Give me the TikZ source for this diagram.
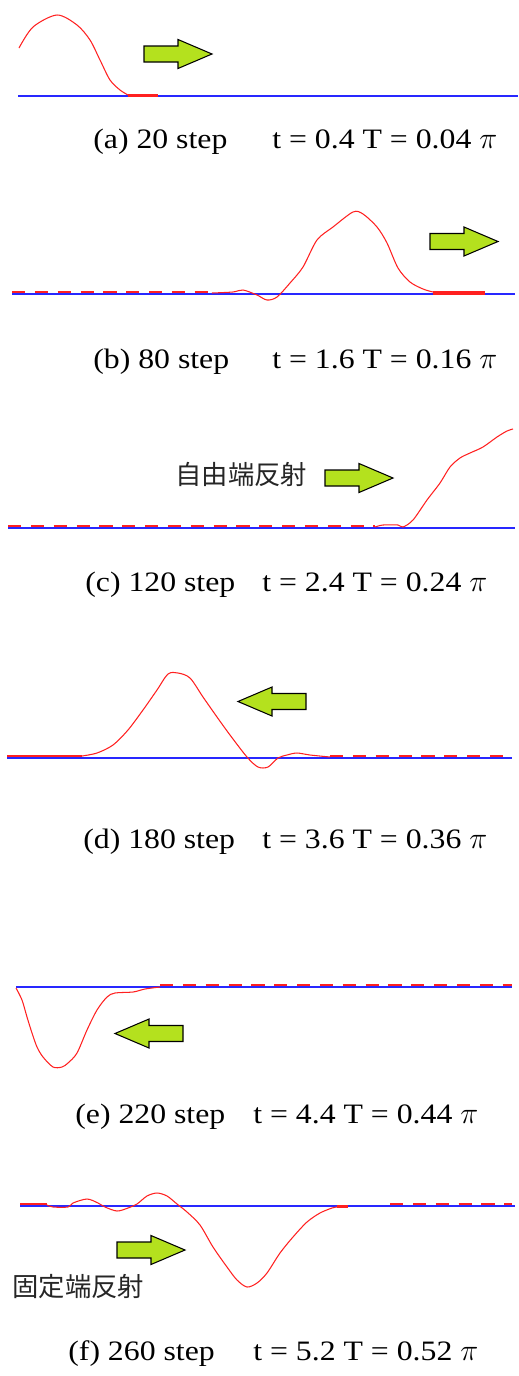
\documentclass[tikz,border=0pt]{standalone}
\usepackage{fontspec}
\setmainfont[FakeStretch=1.13]{Liberation Serif}
\newfontfamily\jpfont{Noto Sans CJK JP}
\definecolor{WAVEred}{HTML}{FF2020}
\definecolor{WAVEblue}{HTML}{2828FF}
\definecolor{WAVEgreen}{HTML}{B4E11E}

\begin{document}
\begin{tikzpicture}[x=0.02cm, y=-0.02cm,
      rope/.style={WAVEblue, line width=1.1pt},
      wave/.style={WAVEred, line width=0.6pt},
      rest/.style={WAVEred, line width=1.8pt},
      residue/.style={WAVEred, line width=2.2pt, dash pattern=on 7.5pt off 5.5pt},
      caption/.style={anchor=base west, inner sep=0pt, font=\fontsize{16}{19}\selectfont},
      note/.style={anchor=west, inner sep=0pt, text=black!85, font=\jpfont\fontsize{15}{18}\selectfont},
      move/.pic={\draw[black, fill=WAVEgreen, line width=0.6pt]
         (0,-8) -- (34,-8) -- (34,-14.5) -- (68,0) -- (34,14.5) -- (34,8) -- (0,8) -- cycle;}]
   \useasboundingbox (0,0) rectangle (518,1376);
   % (a) 20 step
   \draw[rope] (18,96) -- (518,96);
   \draw[wave] plot[smooth] coordinates {(19,48) (33,27) (57,15) (77,25) (90,40) (100,60) (110,80) (120,90) (128,95)};
   \draw[rest] (128,95.5) -- (158,95.5);
   \pic at (144,54) {move};
   \node[caption] (cap-a) at (93,148) {(a) 20 step};
   \node[caption] (val-a) at (272,148) {t = 0.4 T = 0.04 $\pi$};
   % (b) 80 step
   \draw[residue] (12,293) -- (212,293);
   \draw[rope] (12,294) -- (515,294);
   \draw[wave] plot[smooth] coordinates {(212,293) (233,292) (243,290) (257,295) (267,300) (277,297) (290,283) (303,267)
      (317,240) (333,227) (353,212) (363,214) (377,227) (387,243) (398,268) (410,282) (423,289) (433,292)};
   \draw[rest] (433,293) -- (485,293);
   \pic at (430,241.5) {move};
   \node[caption] (cap-b) at (93,368) {(b) 80 step};
   \node[caption] (val-b) at (272,368) {t = 1.6 T = 0.16 $\pi$};
   % (c) 120 step, free end
   \draw[residue] (8,527) -- (375,527);
   \draw[rope] (8,528) -- (515,528);
   \draw[wave] plot[smooth] coordinates {(375,527) (383,525) (398,525) (403,527) (413,520) (427,500) (440,483) (450,467)
      (460,458) (470,453) (483,447) (497,437) (507,431) (513,429)};
   \pic at (325,478) {move};
   \node[note] (free-end) at (175,474) {自由端反射};
   \node[caption] (cap-c) at (85,591) {(c) 120 step};
   \node[caption] (val-c) at (262,591) {t = 2.4 T = 0.24 $\pi$};
   % (d) 180 step
   \draw[rest] (7,757) -- (82,757);
   \draw[residue] (330,757) -- (512,757);
   \draw[rope] (7,758) -- (512,758);
   \draw[wave] plot[smooth] coordinates {(82,756) (97,753) (113,745) (128,730) (143,710) (157,690) (168,674) (178,673)
      (190,678) (203,697) (217,717) (230,735) (247,757) (258,767) (268,767) (278,758) (287,755) (297,753) (310,755) (330,757)};
   \pic[xscale=-1] at (306,701.5) {move};
   \node[caption] (cap-d) at (83,848) {(d) 180 step};
   \node[caption] (val-d) at (262,848) {t = 3.6 T = 0.36 $\pi$};
   % (e) 220 step
   \draw[residue] (160,986) -- (512,986);
   \draw[rope] (16,987) -- (512,987);
   \draw[wave] plot[smooth] coordinates {(16,988) (22,1000) (27,1017) (32,1033) (37,1047) (43,1057) (53,1067) (62,1067)
      (68,1063) (77,1053) (87,1030) (97,1010) (107,997) (115,993) (133,992) (145,989) (160,987)};
   \pic[xscale=-1] at (183,1033.5) {move};
   \node[caption] (cap-e) at (75,1123) {(e) 220 step};
   \node[caption] (val-e) at (253,1123) {t = 4.4 T = 0.44 $\pi$};
   % (f) 260 step, fixed end
   \draw[rest] (20,1204.5) -- (47,1204.5);
   \draw[residue] (390,1205) -- (512,1205);
   \draw[rope] (20,1206) -- (515,1206);
   \draw[wave] plot[smooth] coordinates {(47,1205) (53,1207) (68,1207) (73,1203) (87,1199) (98,1203) (105,1207) (117,1211)
      (128,1208) (137,1204) (147,1196) (157,1193) (167,1196) (177,1204) (187,1212) (200,1225) (213,1247) (227,1267)
      (237,1280) (247,1287) (257,1283) (267,1273) (280,1253) (293,1237) (307,1222) (320,1213) (332,1208) (337,1207)};
   \draw[rest] (337,1206.5) -- (348,1206.5);
   \pic at (117,1250) {move};
   \node[note] (fixed-end) at (12,1287) {固定端反射};
   \node[caption] (cap-f) at (68,1360) {(f) 260 step};
   \node[caption] (val-f) at (253,1360) {t = 5.2 T = 0.52 $\pi$};
\end{tikzpicture}
\end{document}
